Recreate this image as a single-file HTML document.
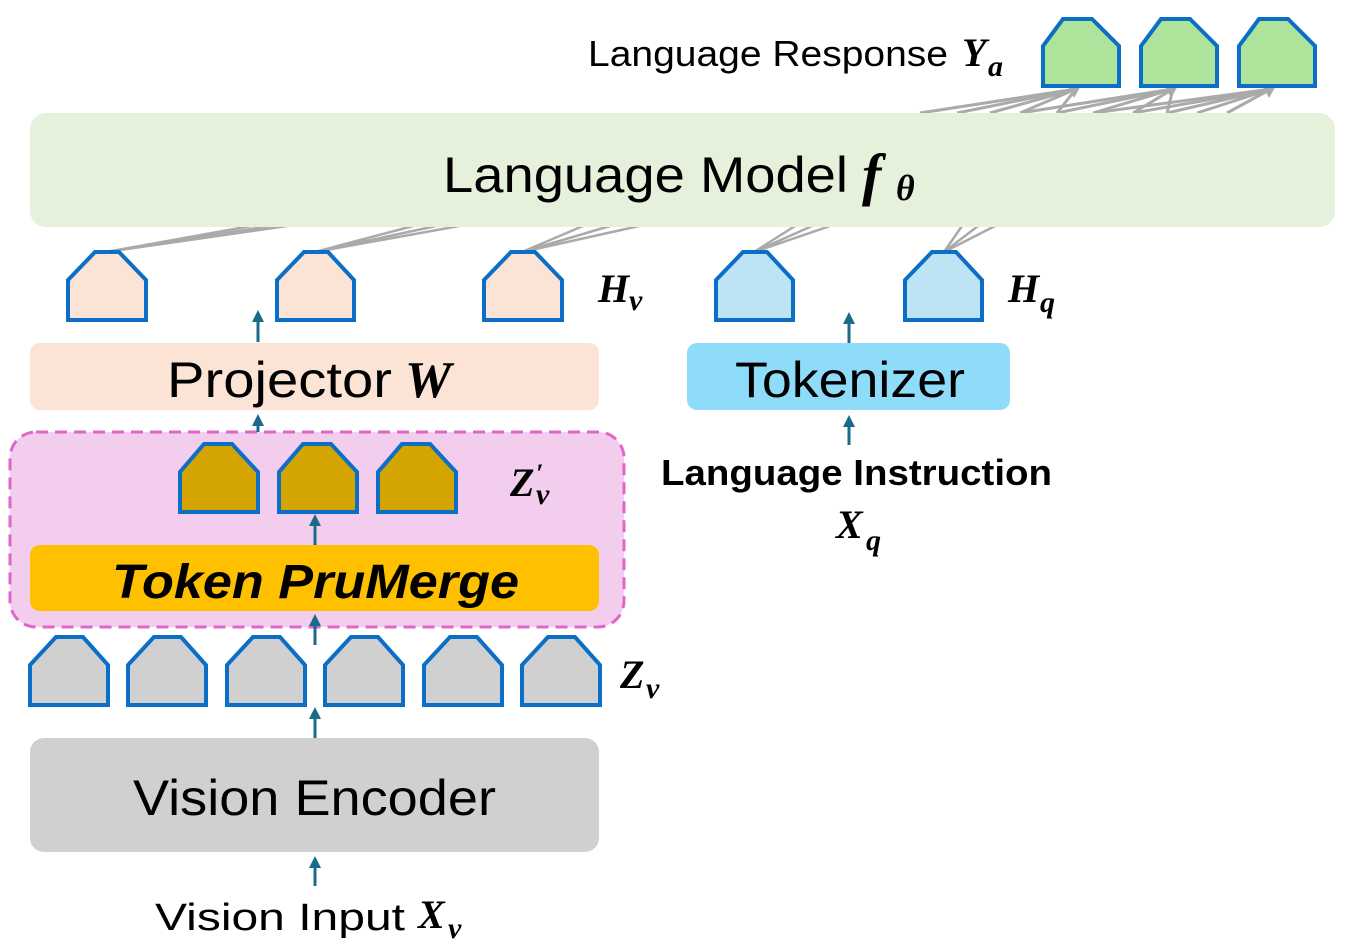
<!DOCTYPE html>
<html><head><meta charset="utf-8"><style>
html,body{margin:0;padding:0;background:#fff;}
svg{display:block;}
.s{font-family:"Liberation Sans",sans-serif;}
.m{font-family:"Liberation Serif",serif;font-style:italic;font-weight:bold;}
</style></head><body>
<svg width="1345" height="948" viewBox="0 0 1345 948" xmlns="http://www.w3.org/2000/svg">
<defs>
<marker id="ga" markerWidth="8" markerHeight="8" refX="6" refY="4" orient="auto" markerUnits="userSpaceOnUse" viewBox="0 0 8 8"><path d="M0,0 L8,4 L0,8 z" fill="#aaa"/></marker>
</defs>
<!-- top connection lines -->
<g stroke="#aaa" stroke-width="3" fill="none">
<line x1="920" y1="113" x2="1076" y2="89"/><line x1="990" y1="113" x2="1076" y2="89"/><line x1="1057" y1="113" x2="1076" y2="89"/><line x1="957" y1="113" x2="1076" y2="89"/><line x1="1020" y1="113" x2="1076" y2="89"/>
<line x1="1020" y1="113" x2="1173" y2="89"/><line x1="1093" y1="113" x2="1173" y2="89"/><line x1="1133" y1="113" x2="1173" y2="89"/><line x1="1057" y1="113" x2="1173" y2="89"/><line x1="1167" y1="113" x2="1173" y2="89"/>
<line x1="1093" y1="113" x2="1271" y2="89"/><line x1="1167" y1="113" x2="1271" y2="89"/><line x1="1197" y1="113" x2="1271" y2="89"/><line x1="1227" y1="113" x2="1271" y2="89"/><line x1="1133" y1="113" x2="1271" y2="89"/>
</g>
<path d="M1068,86 L1082,84 L1074,98 z" fill="#aaa"/>
<path d="M1165,86 L1179,84 L1171,98 z" fill="#aaa"/>
<path d="M1263,86 L1277,84 L1269,98 z" fill="#aaa"/>
<!-- bottom connection lines -->
<g stroke="#aaa" stroke-width="2.5">
<line x1="106" y1="252" x2="251" y2="226"/><line x1="106" y1="252" x2="270" y2="226"/><line x1="106" y1="252" x2="287" y2="226"/>
<line x1="315" y1="252" x2="413" y2="226"/><line x1="315" y1="252" x2="436" y2="226"/><line x1="315" y1="252" x2="459" y2="226"/>
<line x1="522" y1="252" x2="583" y2="226"/><line x1="522" y1="252" x2="610" y2="226"/><line x1="522" y1="252" x2="639" y2="226"/>
<line x1="754" y1="252" x2="795" y2="226"/><line x1="754" y1="252" x2="812" y2="226"/><line x1="754" y1="252" x2="830" y2="226"/>
<line x1="944" y1="252" x2="962" y2="226"/><line x1="944" y1="252" x2="978" y2="226"/><line x1="944" y1="252" x2="995" y2="226"/>
</g>
<!-- Language model -->
<rect x="30" y="113" width="1305" height="114" rx="16" fill="#e6f1dc"/>
<text x="443" y="192" class="s" font-size="50" textLength="405" lengthAdjust="spacingAndGlyphs">Language Model</text>
<text x="862" y="194" class="m" font-size="58">f</text><text x="896" y="200" class="m" font-size="36">θ</text>
<text x="588" y="66" class="s" font-size="36" textLength="360" lengthAdjust="spacingAndGlyphs">Language Response</text>
<text x="962" y="66" class="m" font-size="40">Y</text><text x="988" y="76" class="m" font-size="30">a</text>
<!-- green tokens -->
<g fill="#aee39c" stroke="#0b6fc8" stroke-width="4" stroke-linejoin="miter">
<path d="M1043,86 V46 L1063,19 H1092 L1119,46 V86 Z"/>
<path d="M1141,86 V46 L1161,19 H1190 L1217,46 V86 Z"/>
<path d="M1239,86 V46 L1259,19 H1288 L1315,46 V86 Z"/>
</g>
<!-- Hv tokens -->
<g fill="#fbe3d6" stroke="#0b6fc8" stroke-width="4">
<path d="M68,320 V280 L95,252 H119 L146,280 V320 Z"/>
<path d="M277,320 V280 L304,252 H328 L354,280 V320 Z"/>
<path d="M484,320 V280 L511,252 H535 L562,280 V320 Z"/>
</g>
<g fill="#bde4f5" stroke="#0b6fc8" stroke-width="4">
<path d="M716,320 V280 L743,252 H767 L793,280 V320 Z"/>
<path d="M905,320 V280 L932,252 H956 L982,280 V320 Z"/>
</g>
<text x="598" y="302" class="m" font-size="40">H</text><text x="629" y="310" class="m" font-size="30">v</text>
<text x="1008" y="302" class="m" font-size="40">H</text><text x="1040" y="312" class="m" font-size="30">q</text>
<!-- Projector -->
<rect x="30" y="343" width="569" height="67" rx="10" fill="#fbe3d6"/>
<text x="167" y="397" class="s" font-size="50" textLength="225" lengthAdjust="spacingAndGlyphs">Projector</text>
<text x="405" y="397" class="m" font-size="52">W</text>
<!-- Tokenizer -->
<rect x="687" y="343" width="323" height="67" rx="10" fill="#8fdcfa"/>
<text x="735" y="397" class="s" font-size="50" textLength="230" lengthAdjust="spacingAndGlyphs">Tokenizer</text>
<!-- dashed region -->
<rect x="10" y="432" width="614" height="195" rx="26" fill="#f2cdee" stroke="#e066c9" stroke-width="3" stroke-dasharray="12,7"/>
<g fill="#d4a500" stroke="#0b6fc8" stroke-width="4">
<path d="M180,512 V472 L204,444 H232 L258,472 V512 Z"/>
<path d="M279,512 V472 L303,444 H331 L357,472 V512 Z"/>
<path d="M378,512 V472 L402,444 H430 L456,472 V512 Z"/>
</g>
<text x="510" y="496" class="m" font-size="40">Z</text><text x="536" y="482" class="m" font-size="26">′</text><text x="536" y="504" class="m" font-size="30">v</text>
<rect x="30" y="545" width="569" height="66" rx="10" fill="#ffc000"/>
<text x="112" y="598" class="s" font-size="48" font-weight="bold" font-style="italic" textLength="407" lengthAdjust="spacingAndGlyphs">Token PruMerge</text>
<!-- gray tokens -->
<g fill="#d0d0d0" stroke="#0b6fc8" stroke-width="4">
<path d="M30,705 V665 L56,637 H83 L108,665 V705 Z"/>
<path d="M128,705 V665 L154,637 H181 L206,665 V705 Z"/>
<path d="M227,705 V665 L253,637 H280 L305,665 V705 Z"/>
<path d="M325,705 V665 L351,637 H378 L403,665 V705 Z"/>
<path d="M424,705 V665 L450,637 H477 L502,665 V705 Z"/>
<path d="M522,705 V665 L548,637 H575 L600,665 V705 Z"/>
</g>
<text x="620" y="688" class="m" font-size="40">Z</text><text x="646" y="698" class="m" font-size="30">v</text>
<!-- Vision encoder -->
<rect x="30" y="738" width="569" height="114" rx="14" fill="#d0d0d0"/>
<text x="133" y="815" class="s" font-size="50" textLength="363" lengthAdjust="spacingAndGlyphs">Vision Encoder</text>
<text x="155" y="930" class="s" font-size="38" textLength="250" lengthAdjust="spacingAndGlyphs">Vision Input</text>
<text x="418" y="928" class="m" font-size="40">X</text><text x="448" y="938" class="m" font-size="30">v</text>
<text x="661" y="485" class="s" font-size="36" font-weight="bold" textLength="391" lengthAdjust="spacingAndGlyphs">Language Instruction</text>
<text x="836" y="538" class="m" font-size="40">X</text><text x="866" y="550" class="m" font-size="30">q</text>
<!-- teal arrows -->
<g stroke="#1a6a8a" stroke-width="3" fill="#1a6a8a">
<line x1="258" y1="342" x2="258" y2="320"/><path d="M252,322 L258,310 L264,322 z" stroke="none"/>
<line x1="258" y1="432" x2="258" y2="424"/><path d="M252,426 L258,414 L264,426 z" stroke="none"/>
<line x1="315" y1="545" x2="315" y2="524"/><path d="M309,526 L315,514 L321,526 z" stroke="none"/>
<line x1="315" y1="645" x2="315" y2="624"/><path d="M309,626 L315,614 L321,626 z" stroke="none"/>
<line x1="315" y1="738" x2="315" y2="717"/><path d="M309,719 L315,707 L321,719 z" stroke="none"/>
<line x1="315" y1="886" x2="315" y2="866"/><path d="M309,868 L315,856 L321,868 z" stroke="none"/>
<line x1="849" y1="343" x2="849" y2="322"/><path d="M843,324 L849,312 L855,324 z" stroke="none"/>
<line x1="849" y1="445" x2="849" y2="425"/><path d="M843,427 L849,415 L855,427 z" stroke="none"/>
</g>
</svg>
</body></html>
